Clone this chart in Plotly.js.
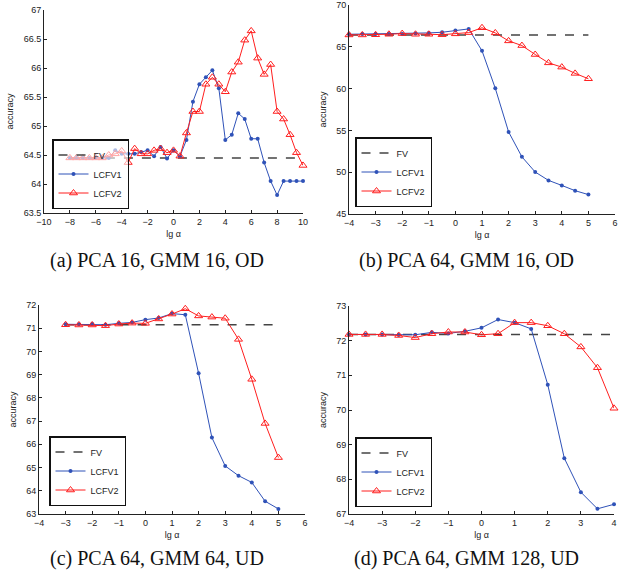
<!DOCTYPE html>
<html>
<head>
<meta charset="utf-8">
<script src="https://cdn.plot.ly/plotly-3.0.1.min.js"></script>
<style>html,body{margin:0;padding:0;background:#fff;}#chart{width:627px;height:575px;}</style>
</head>
<body>
<div id="chart"></div>
<script>
// Panel (a) PCA 16, GMM 16, OD
const xA = [-8,-7.5,-7,-6.5,-6,-5.5,-5,-4.5,-4,-3.5,-3,-2.5,-2,-1.5,-1,-0.5,0,0.5,1,1.5,2,2.5,3,3.5,4,4.5,5,5.5,6,6.5,7,7.5,8,8.5,9,9.5,10];
const lcfv1A = [64.45,64.45,64.45,64.45,64.45,64.45,64.45,64.58,64.52,64.52,64.52,64.55,64.58,64.48,64.64,64.44,64.58,64.48,64.76,65.42,65.72,65.84,65.96,65.65,64.76,64.85,65.22,65.12,64.78,64.78,64.37,64.05,63.81,64.05,64.05,64.05,64.05];
const lcfv2A = [64.45,64.45,64.45,64.45,64.45,64.45,64.50,64.52,64.57,64.37,64.61,64.52,64.52,64.58,64.61,64.54,64.58,64.48,64.88,65.25,65.25,65.72,65.84,65.72,65.59,65.93,66.10,66.48,66.64,66.17,65.89,66.06,65.25,65.12,64.85,64.54,64.32];
const fvA = 64.45;

// Panel (b) PCA 64, GMM 16, OD
const xB = [-4,-3.5,-3,-2.5,-2,-1.5,-1,-0.5,0,0.5,1,1.5,2,2.5,3,3.5,4,4.5,5];
const lcfv1B = [66.50,66.52,66.54,66.54,66.54,66.58,66.66,66.74,66.96,67.14,64.52,60.03,54.82,51.84,50.02,49.02,48.42,47.79,47.32];
const lcfv2B = [66.42,66.42,66.44,66.50,66.58,66.50,66.50,66.45,66.55,66.70,67.28,66.66,65.71,65.15,64.08,63.08,62.57,61.82,61.18];
const fvB = 66.42;

// Panel (c) PCA 64, GMM 64, UD
const xC = [-3,-2.5,-2,-1.5,-1,-0.5,0,0.5,1,1.5,2,2.5,3,3.5,4,4.5,5];
const lcfv1C = [71.17,71.17,71.18,71.15,71.21,71.25,71.37,71.44,71.63,71.58,69.06,66.29,65.07,64.65,64.36,63.55,63.22];
const lcfv2C = [71.15,71.14,71.14,71.11,71.18,71.22,71.21,71.40,71.61,71.84,71.53,71.48,71.43,70.52,68.80,66.90,65.43];
const fvC = 71.15;

// Panel (d) PCA 64, GMM 128, UD
const xD = [-4,-3.5,-3,-2.5,-2,-1.5,-1,-0.5,0,0.5,1,1.5,2,2.5,3,3.5,4];
const lcfv1D = [72.18,72.18,72.18,72.16,72.17,72.24,72.21,72.27,72.37,72.61,72.52,72.34,70.73,68.61,67.63,67.15,67.28];
const lcfv2D = [72.18,72.18,72.18,72.15,72.09,72.20,72.25,72.25,72.17,72.20,72.52,72.52,72.43,72.20,71.82,71.22,70.05];
const fvD = 72.18;

const captions = ["(a) PCA 16, GMM 16, OD", "(b) PCA 64, GMM 16, OD", "(c) PCA 64, GMM 64, UD", "(d) PCA 64, GMM 128, UD"];
const seriesNames = ["FV", "LCFV1", "LCFV2"];

const panels = [
  {x: xA, l1: lcfv1A, l2: lcfv2A, fv: fvA, xr: [-10, 10], xd: 2, yr: [63.5, 67], yd: 0.5},
  {x: xB, l1: lcfv1B, l2: lcfv2B, fv: fvB, xr: [-4, 6], xd: 1, yr: [45, 70], yd: 5},
  {x: xC, l1: lcfv1C, l2: lcfv2C, fv: fvC, xr: [-4, 6], xd: 1, yr: [63, 72], yd: 1},
  {x: xD, l1: lcfv1D, l2: lcfv2D, fv: fvD, xr: [-4, 4], xd: 1, yr: [67, 73], yd: 1}
];

const W = 627, H = 575;
// plot boxes in pixels: [left, right, top, bottom]
const boxes = [[44, 303, 10, 213], [349, 615, 5, 214], [39, 305, 305, 514], [349, 614, 306, 514]];
const legBoxes = [[52, 209], [355, 207], [49, 506], [355, 507]];
const legBg = ['rgba(255,255,255,0.6)', '#fff', '#fff', '#fff'];
const capPos = [[157, 260], [466, 260], [157, 558], [466, 558]];

const blue = '#2f52b8', red = '#ff1f1f', dashc = '#444444';
const data = [];
const layout = {
  width: W, height: H,
  margin: {l: 0, r: 0, t: 0, b: 0},
  paper_bgcolor: '#fff', plot_bgcolor: '#fff',
  font: {family: 'Liberation Sans, Arial, sans-serif', size: 9, color: '#222'},
  annotations: []
};

panels.forEach((p, i) => {
  const s = i === 0 ? '' : String(i + 1);
  const xa = 'x' + s, ya = 'y' + s, leg = 'legend' + s;
  const fvLine = p.x.map(() => p.fv);
  data.push({x: p.x, y: fvLine, xaxis: xa, yaxis: ya, legend: leg, name: seriesNames[0], mode: 'lines',
    cliponaxis: false, line: {color: dashc, width: 1.5, dash: 'dash'}});
  data.push({x: p.x, y: p.l1, xaxis: xa, yaxis: ya, legend: leg, name: seriesNames[1], mode: 'lines+markers',
    cliponaxis: false, line: {color: blue, width: 1}, marker: {symbol: 'circle', size: 4, color: blue}});
  data.push({x: p.x, y: p.l2, xaxis: xa, yaxis: ya, legend: leg, name: seriesNames[2], mode: 'lines+markers',
    cliponaxis: false, line: {color: red, width: 1}, marker: {symbol: 'triangle-up-open', size: 7, color: red, line: {width: 1, color: red}}});
  const b = boxes[i];
  const axCommon = {showgrid: false, zeroline: false, showline: true, linecolor: '#222', linewidth: 1,
    ticks: 'inside', ticklen: 3, tickcolor: '#222', tickfont: {size: 9, color: '#222'}, mirror: false};
  layout['xaxis' + s] = Object.assign({}, axCommon, {
    domain: [b[0] / W, b[1] / W], anchor: ya, range: p.xr, dtick: p.xd, tick0: 0,
    title: {text: 'lg α', font: {size: 9, color: '#222'}, standoff: 4}
  });
  layout['yaxis' + s] = Object.assign({}, axCommon, {
    domain: [1 - b[3] / H, 1 - b[2] / H], anchor: xa, range: p.yr, dtick: p.yd, tick0: 0,
    title: {text: 'accuracy', font: {size: 9, color: '#222'}, standoff: 8}
  });
  const lb = legBoxes[i];
  layout[leg] = {x: lb[0] / W, y: 1 - lb[1] / H, xanchor: 'left', yanchor: 'bottom',
    bgcolor: legBg[i], bordercolor: '#111', borderwidth: 1.5, font: {size: 9, color: '#222'},
    tracegroupgap: 0, itemwidth: 30};
  layout.annotations.push({text: captions[i], xref: 'paper', yref: 'paper', x: capPos[i][0] / W, y: 1 - capPos[i][1] / H,
    xanchor: 'center', yanchor: 'middle', showarrow: false,
    font: {family: 'Liberation Serif, Times New Roman, serif', size: 20, color: '#111'}});
});

Plotly.newPlot('chart', data, layout, {staticPlot: true, displayModeBar: false});
</script>
</body>
</html>
